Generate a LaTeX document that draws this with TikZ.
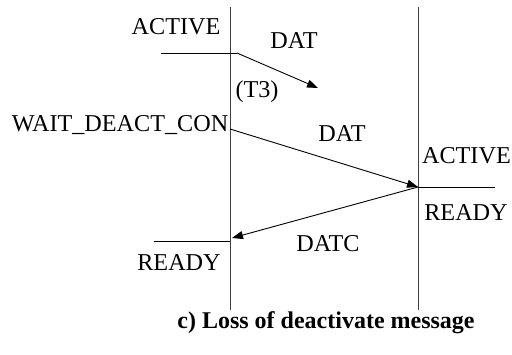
\documentclass[tikz,border=0pt]{standalone}
\usepackage{fontspec}
\setmainfont{Liberation Serif}
\usetikzlibrary{arrows.meta}
\begin{document}
\begin{tikzpicture}[x=1pt,y=-1pt,
  lbl/.style={font=\fontsize{24.2}{26}\selectfont, inner sep=0pt},
  life/.style={line width=1pt, draw=black!75},
  msg/.style={line width=0.9pt, -{Triangle[length=11pt,width=8pt]}},
  state/.style={line width=0.9pt}]
\useasboundingbox (0,0) rectangle (512,354);
% lifelines
\coordinate (Lt) at (230,7);
\coordinate (Lb) at (230,310);
\coordinate (Rt) at (418,7);
\coordinate (Rb) at (418,310);
\draw[life] (Lt) -- (Lb);
\draw[life] (Rt) -- (Rb);
% state lines
\coordinate (a1) at (161,53);
\coordinate (a2) at (237,53);
\coordinate (t1) at (318,88);
\draw[state] (a1) -- (a2);
\draw[msg] (a2) -- (t1);
\coordinate (w1) at (230,129);
\coordinate (r1) at (418,187);
\coordinate (r2) at (495,187);
\coordinate (l1) at (232,238);
\coordinate (l0) at (154,241);
\coordinate (l2) at (230,241);
\draw[msg] (w1) -- (r1);
\draw[state] (r1) -- (r2);
\draw[msg] (r1) -- (l1);
\draw[state] (l0) -- (l2);
% labels
\node[lbl] (active1) at (176,27) {ACTIVE};
\node[lbl] (dat1) at (294,41) {DAT};
\node[lbl] (t3) at (257,92) {(T3)};
\node[lbl, anchor=east] (wait) at (228.5,125) {WAIT\_DEACT\_CON};
\node[lbl] (dat2) at (342,134) {DAT};
\node[lbl, anchor=east] (active2) at (511,156) {ACTIVE};
\node[lbl] (ready2) at (466,213) {READY};
\node[lbl] (datc) at (328,244) {DATC};
\node[lbl] (ready1) at (179,263) {READY};
\node[font=\bfseries\fontsize{24}{26}\selectfont, inner sep=0pt] (cap) at (326,323) {c) Loss of deactivate message};
\end{tikzpicture}
\end{document}
